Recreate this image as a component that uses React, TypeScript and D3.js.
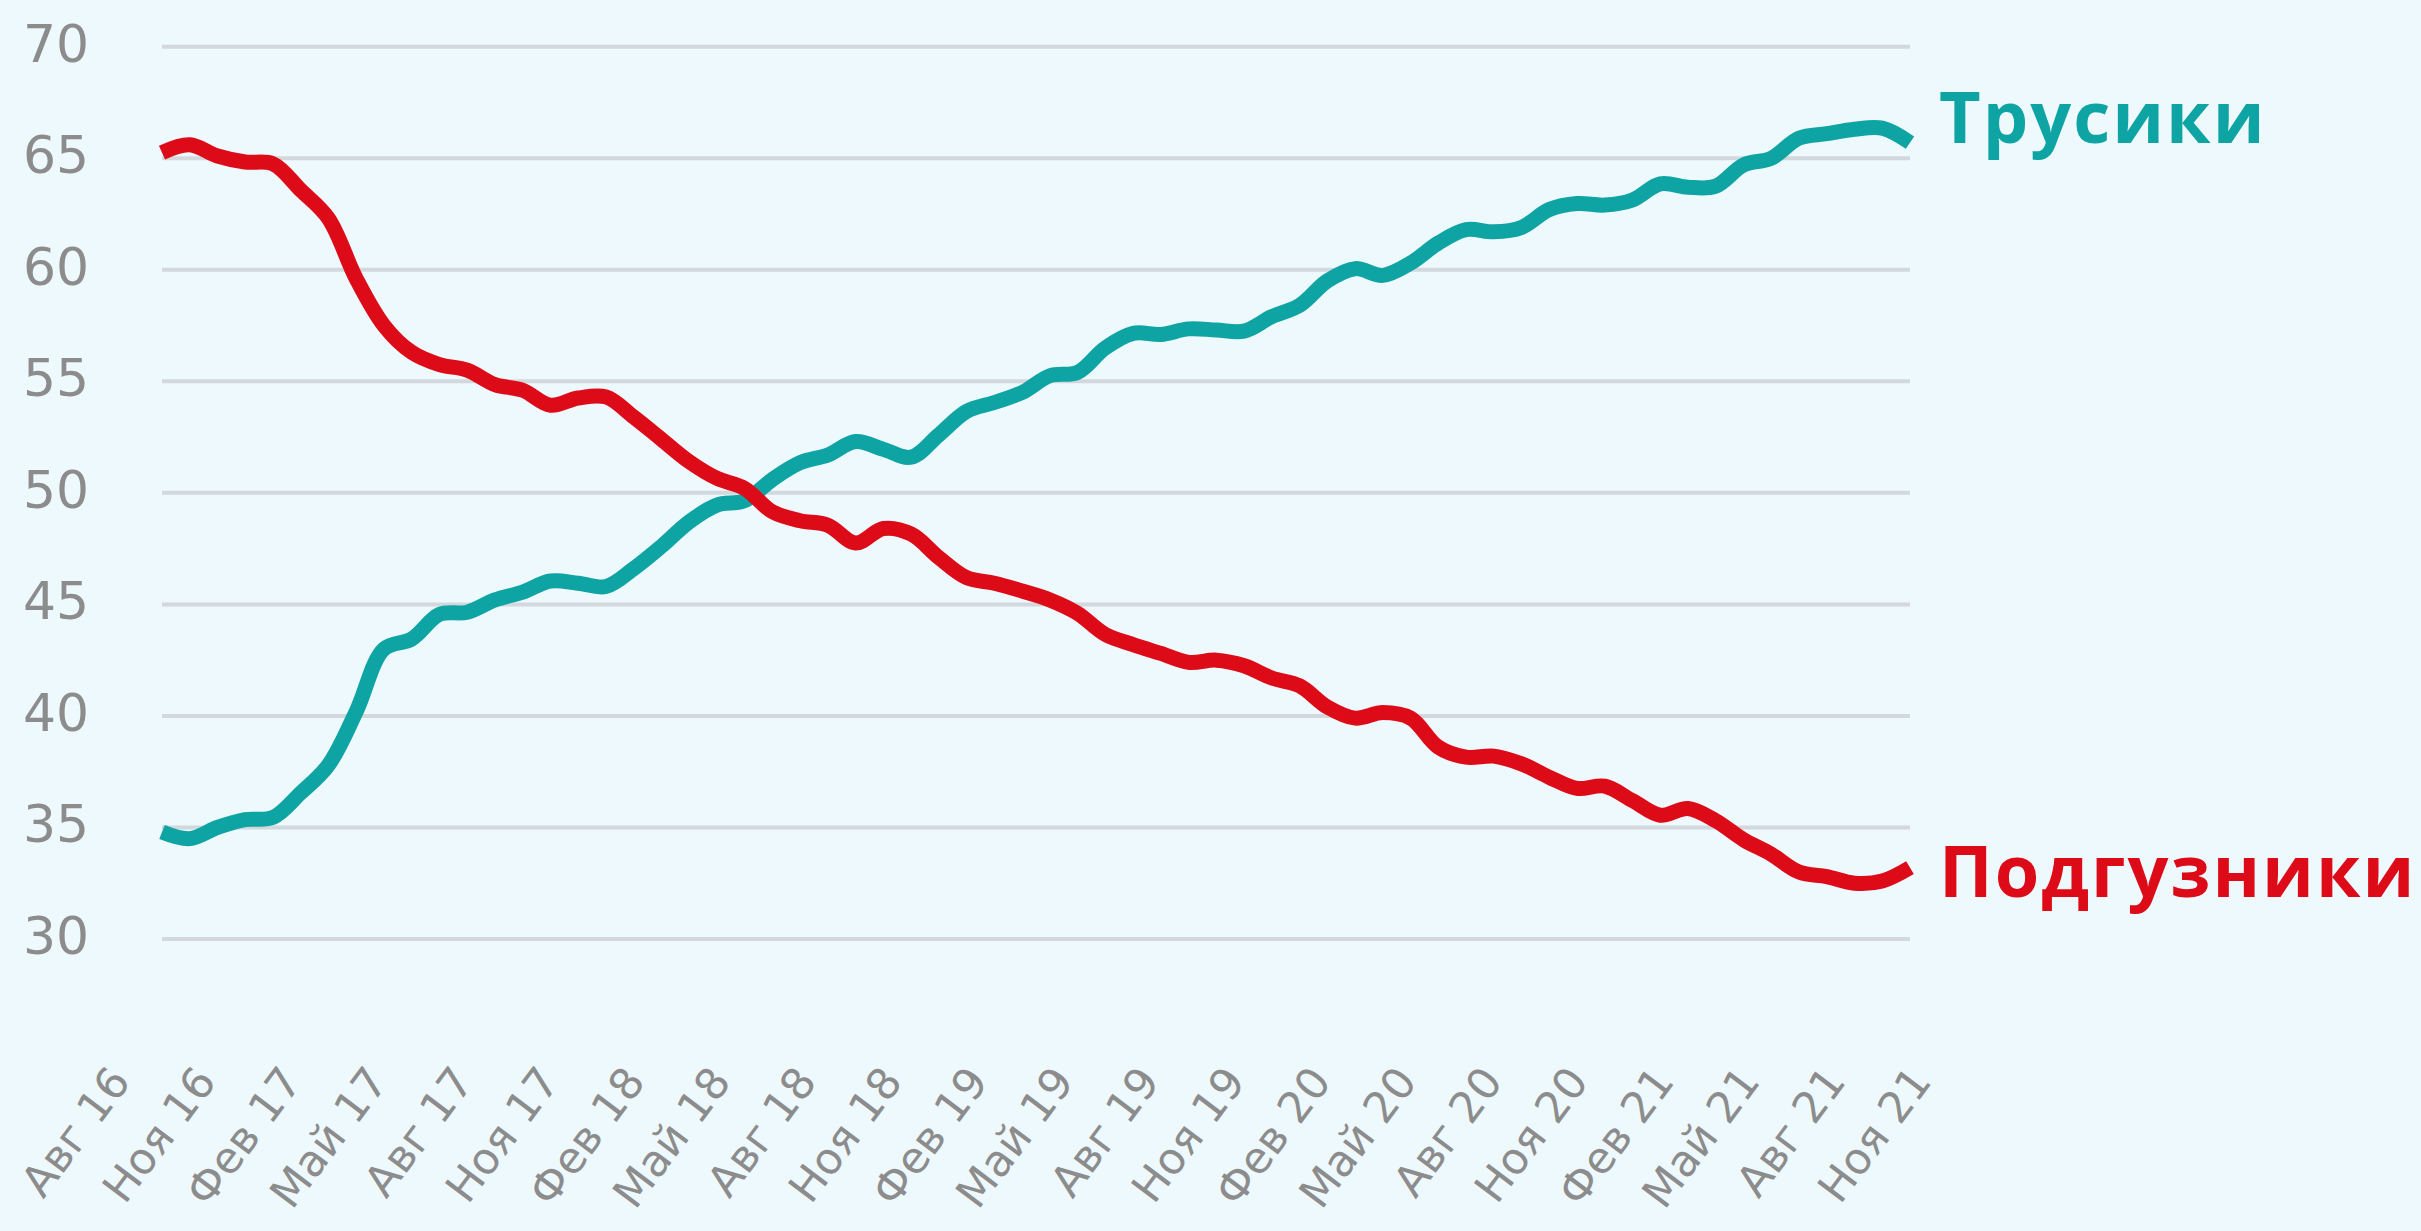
import React from "react";
import * as d3 from "d3";

// quarterly tick labels under the chart
const tickLabels = [
  "Авг 16", "Ноя 16", "Фев 17", "Май 17", "Авг 17", "Ноя 17",
  "Фев 18", "Май 18", "Авг 18", "Ноя 18", "Фев 19", "Май 19",
  "Авг 19", "Ноя 19", "Фев 20", "Май 20", "Авг 20", "Ноя 20",
  "Фев 21", "Май 21", "Авг 21", "Ноя 21",
];

const yTicks = [30, 35, 40, 45, 50, 55, 60, 65, 70];

// monthly values, Aug 16 .. Nov 21
const diapers = [
  65.25, 65.6, 65.1, 64.83, 64.75, 63.57, 62.3, 59.6, 57.5, 56.3,
  55.75, 55.5, 54.85, 54.6, 53.93, 54.25, 54.3, 53.4, 52.4, 51.4,
  50.65, 50.2, 49.15, 48.75, 48.55, 47.75, 48.4, 48.15, 47.1, 46.2,
  45.95, 45.6, 45.2, 44.6, 43.65, 43.2, 42.8, 42.4, 42.5, 42.25,
  41.7, 41.35, 40.4, 39.9, 40.15, 39.9, 38.6, 38.15, 38.2, 37.85,
  37.25, 36.75, 36.85, 36.2, 35.55, 35.85, 35.3, 34.45, 33.8, 33.0,
  32.8, 32.5, 32.6, 33.2,
];

const pants = [
  34.8, 34.5, 35.0, 35.35, 35.45, 36.55, 37.8, 40.2, 43.0, 43.45,
  44.55, 44.65, 45.2, 45.55, 46.05, 45.95, 45.8, 46.6, 47.6, 48.7,
  49.45, 49.65, 50.6, 51.35, 51.7, 52.3, 51.95, 51.6, 52.6, 53.65,
  54.05, 54.5, 55.25, 55.4, 56.5, 57.15, 57.1, 57.35, 57.3, 57.25,
  57.9, 58.4, 59.5, 60.05, 59.75, 60.3, 61.2, 61.8, 61.7, 61.9,
  62.7, 62.97, 62.9, 63.13, 63.85, 63.7, 63.75, 64.7, 65.0, 65.9,
  66.1, 66.3, 66.35, 65.7,
];

const series = [
  { name: "Трусики", values: pants, color: "#0fa4a4", dy: 0 },
  { name: "Подгузники", values: diapers, color: "#dd0a17", dy: 29 },
];

const W = 2421;
const H = 1231;
const plot = { left: 162, right: 1910, top: 46.7, bottom: 939 };

export default function App() {
  const x = d3.scaleLinear().domain([0, pants.length - 1]).range([plot.left, plot.right]);
  const y = d3.scaleLinear().domain([30, 70]).range([plot.bottom, plot.top]);
  const xLabel = d3.scalePoint().domain(tickLabels).range([132, 1933]);

  const line = d3
    .line<number>()
    .x((d, i) => x(i))
    .y(d => y(d))
    .curve(d3.curveCatmullRom.alpha(0.5));

  return (
    <svg
      width={W}
      height={H}
      style={{ position: "absolute", left: 0, top: 0, display: "block" }}
    >
      <rect width={W} height={H} fill="#eef9fe" />

      {yTicks.map(t => (
        <g key={t}>
          <line x1={plot.left} x2={plot.right} y1={y(t)} y2={y(t)} stroke="#d2d8dc" strokeWidth={4} />
          <text
            x={23}
            y={y(t) + 15}
            fontFamily="'DejaVu Sans', sans-serif"
            fontSize={52}
            fill="#8c8c8c"
          >
            {t}
          </text>
        </g>
      ))}

      {tickLabels.map(l => (
        <text
          key={l}
          transform={`translate(${xLabel(l)} 1082) rotate(-53)`}
          textAnchor="end"
          fontFamily="'DejaVu Sans', sans-serif"
          fontSize={43.5}
          fill="#8c8c8c"
        >
          {l}
        </text>
      ))}

      {series.map(s => {
        const last = s.values.length - 1;
        return (
          <g key={s.name}>
            <path d={line(s.values) || ""} fill="none" stroke={s.color} strokeWidth={15} />
            <text
              x={x(last) + 29}
              y={y(s.values[last]) + s.dy}
              fontFamily="'Open Sans', sans-serif"
              fontWeight={700}
              fontSize={72}
              letterSpacing={2}
              fill={s.color}
            >
              {s.name}
            </text>
          </g>
        );
      })}
    </svg>
  );
}
